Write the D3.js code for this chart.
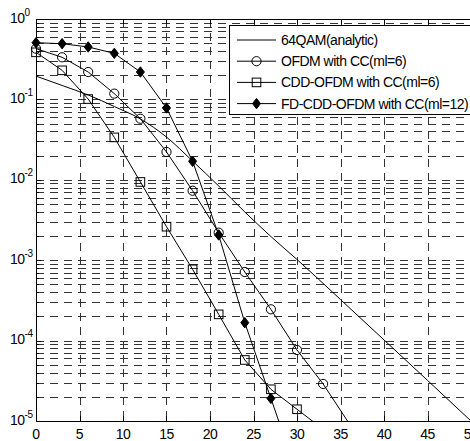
<!DOCTYPE html>
<meta charset="utf-8">
<style>
body { margin: 0; background: #fff; }
svg { display: block; font-family: "Liberation Sans", Arial, sans-serif; }
.grid line { stroke: #333; stroke-width: 1; stroke-dasharray: 8,6; shape-rendering: crispEdges; }
.curve { fill: none; stroke: #000; stroke-width: 1; }
</style>
<body>
<div id="chart"></div>
<script src="https://d3js.org/d3.v7.min.js"></script>
<script>

// SNR (dB) / BER
var analyticSnr = [0, 3, 6, 9, 12, 15, 18, 21, 24, 27, 30, 35, 40, 45, 50];
var analyticBer = [0.195, 0.149, 0.1135, 0.0816, 0.0571, 0.034, 0.0171, 0.00838, 0.00398, 0.00197, 1.02e-3, 3.24e-4, 1.02e-4, 3.2e-5, 1.0e-5];

var ofdmSnr = [0, 3, 6, 9, 12, 15, 18, 21, 24, 27, 30, 33, 36];
var ofdmBer = [0.428, 0.334, 0.219, 0.118, 0.0575, 0.0222, 0.00731, 0.0022, 7.13e-4, 2.45e-4, 7.64e-5, 2.89e-5, 9.3e-6];

var cddSnr = [0, 3, 6, 9, 12, 15, 18, 21, 24, 27, 30, 33];
var cddBer = [0.385, 0.230, 0.101, 0.0337, 0.0094, 0.00261, 7.7e-4, 2.12e-4, 5.74e-5, 2.48e-5, 1.40e-5, 7.9e-6];

var fdSnr = [0, 3, 6, 9, 12, 15, 18, 21, 24, 27, 30];
var fdBer = [0.507, 0.493, 0.449, 0.374, 0.219, 0.0782, 0.0170, 0.00206, 1.67e-4, 1.91e-5, 2.2e-6];

var xTicks = [0, 5, 10, 15, 20, 25, 30, 35, 40, 45, 50];
var yExponents = [0, -1, -2, -3, -4, -5];
var legendLabels = ["64QAM(analytic)", "OFDM with CC(ml=6)", "CDD-OFDM with CC(ml=6)", "FD-CDD-OFDM with CC(ml=12)"];

var width = 470, height = 441;
var plotLeft = 36, plotRight = 471, plotTop = 19, plotBottom = 421;

var svg = d3.select("#chart").append("svg")
    .attr("width", width)
    .attr("height", height);

var x = d3.scaleLinear().domain([0, 50]).range([plotLeft, plotRight]);
var y = d3.scaleLog().domain([1e-5, 1]).range([plotBottom, plotTop]);

svg.append("clipPath").attr("id", "plot")
  .append("rect")
    .attr("x", plotLeft).attr("y", plotTop)
    .attr("width", plotRight - plotLeft).attr("height", plotBottom - plotTop);

// minor values for the log grid
var minor = [];
for (var e = -5; e < 0; e++) {
  for (var m = 1; m < 10; m++) {
    minor.push(m * Math.pow(10, e));
  }
}
minor = minor.filter(function(v) { return v > 1e-5; });

var grid = svg.append("g").attr("class", "grid");
grid.selectAll(".hg")
    .data(minor)
  .enter().append("line")
    .attr("x1", plotLeft).attr("x2", plotRight)
    .attr("y1", function(d) { return Math.round(y(d)) + 0.5; })
    .attr("y2", function(d) { return Math.round(y(d)) + 0.5; });
grid.selectAll(".vg")
    .data(xTicks.slice(1, -1))
  .enter().append("line")
    .attr("y1", plotTop).attr("y2", plotBottom)
    .attr("x1", function(d) { return Math.round(x(d)) + 0.5; })
    .attr("x2", function(d) { return Math.round(x(d)) + 0.5; });

// inward ticks
var ticks = svg.append("g").attr("stroke", "#000").attr("shape-rendering", "crispEdges");
xTicks.forEach(function(t) {
  var px = Math.round(x(t)) + 0.5;
  ticks.append("line").attr("x1", px).attr("x2", px).attr("y1", plotBottom).attr("y2", plotBottom - 5);
  ticks.append("line").attr("x1", px).attr("x2", px).attr("y1", plotTop).attr("y2", plotTop + 5);
});
minor.concat([1]).forEach(function(v) {
  var py = Math.round(y(v)) + 0.5;
  var len = Math.abs(Math.log10(v) - Math.round(Math.log10(v))) < 1e-9 ? 5 : 3;
  ticks.append("line").attr("x1", plotLeft).attr("x2", plotLeft + len).attr("y1", py).attr("y2", py);
});

// box
svg.append("path")
    .attr("fill", "none").attr("stroke", "#000").attr("shape-rendering", "crispEdges")
    .attr("d", "M" + plotRight + "," + (plotTop + 0.5) + "H" + (plotLeft + 0.5) + "V" + (plotBottom + 0.5) + "H" + plotRight);

// curves
var line = d3.line()
    .x(function(d) { return x(d[0]); })
    .y(function(d) { return y(d[1]); });

var curves = svg.append("g").attr("clip-path", "url(#plot)");

function pairs(xs, ys) { return xs.map(function(v, i) { return [v, ys[i]]; }); }

curves.append("path").attr("class", "curve")
    .attr("d", line.curve(d3.curveMonotoneX)(pairs(analyticSnr, analyticBer)));
line.curve(d3.curveLinear);
curves.append("path").attr("class", "curve").attr("d", line(pairs(ofdmSnr, ofdmBer)));
curves.append("path").attr("class", "curve").attr("d", line(pairs(cddSnr, cddBer)));
curves.append("path").attr("class", "curve").attr("d", line(pairs(fdSnr, fdBer)));

function drawMarker(g, kind, cx, cy) {
  if (kind === "circle") {
    g.append("circle").attr("cx", cx).attr("cy", cy).attr("r", 4.6)
      .attr("fill", "none").attr("stroke", "#000");
  } else if (kind === "square") {
    g.append("rect").attr("x", cx - 4.3).attr("y", cy - 4.3).attr("width", 8.6).attr("height", 8.6)
      .attr("fill", "none").attr("stroke", "#000");
  } else if (kind === "diamond") {
    g.append("path").attr("d", "M" + cx + "," + (cy - 5.2) + "L" + (cx + 4) + "," + cy +
        "L" + cx + "," + (cy + 5.2) + "L" + (cx - 4) + "," + cy + "Z")
      .attr("fill", "#000").attr("stroke", "#000");
  }
}

var markers = svg.append("g");
[[ofdmSnr, ofdmBer, "circle"], [cddSnr, cddBer, "square"], [fdSnr, fdBer, "diamond"]].forEach(function(s) {
  pairs(s[0], s[1]).forEach(function(p) {
    if (p[1] >= 1e-5) drawMarker(markers, s[2], x(p[0]), y(p[1]));
  });
});

// axis labels
var labels = svg.append("g").attr("fill", "#000");
xTicks.forEach(function(t) {
  labels.append("text")
      .attr("x", x(t)).attr("y", 439)
      .attr("text-anchor", "middle")
      .attr("font-size", 14)
      .attr("letter-spacing", -0.5)
      .text(t);
});
yExponents.forEach(function(p) {
  var py = y(Math.pow(10, p));
  var t = labels.append("text").attr("x", 10).attr("y", py + 3.5).attr("font-size", 14).attr("letter-spacing", -0.5);
  t.append("tspan").text("10");
  t.append("tspan").attr("dy", -7).attr("font-size", 10).text(p);
});

// legend
var legend = svg.append("g");
legend.append("rect")
    .attr("x", 229.5).attr("y", 25.5).attr("width", 250).attr("height", 89)
    .attr("fill", "#fff").attr("stroke", "#000").attr("shape-rendering", "crispEdges");
var kinds = [null, "circle", "square", "diamond"];
legendLabels.forEach(function(label, i) {
  var ly = 40 + i * 21.2;
  legend.append("line").attr("x1", 237).attr("x2", 276).attr("y1", ly).attr("y2", ly)
    .attr("stroke", "#000");
  if (kinds[i]) drawMarker(legend, kinds[i], 256.5, ly);
  legend.append("text")
      .attr("x", 281).attr("y", ly + 5)
      .attr("font-size", 14)
      .attr("letter-spacing", -0.5)
      .text(label);
});

</script>
</body>
